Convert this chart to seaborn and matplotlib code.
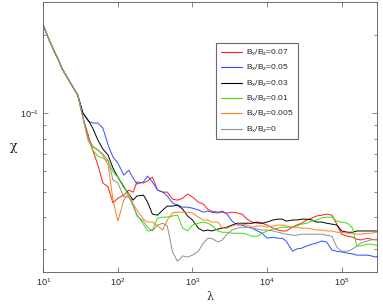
import pandas as pd
import matplotlib
matplotlib.use('Agg')
import matplotlib.pyplot as plt
import seaborn as sns

# lambda sampling points (shared by all curves)
lam = [10, 12, 14, 16, 18, 22, 25, 29,
       34, 40, 46, 54, 63, 74, 86,
       100, 120, 140, 160, 180, 220, 250, 290, 340, 400, 460, 540, 630, 740, 860,
       1000, 1200, 1400, 1600, 1800, 2200, 2500, 2900, 3400, 4000, 4600, 5400, 6300, 7400, 8600,
       1e4, 1.2e4, 1.4e4, 1.6e4, 1.8e4, 2.2e4, 2.5e4, 2.9e4, 3.4e4, 4e4, 4.6e4, 5.4e4, 6.3e4, 7.4e4, 8.6e4,
       1e5, 1.2e5, 1.4e5, 1.6e5, 1.8e5, 2.2e5, 2.5e5, 2.9e5, 3e5]

# common start of all curves
chi_start = [0.2186, 0.1914, 0.1736, 0.1603, 0.1480, 0.1343, 0.1262, 0.1176]

chi_007 = chi_start + [
    0.0968, 0.0826, 0.0723, 0.0633, 0.0540, 0.0521, 0.0452,
    0.0472, 0.0485, 0.0507, 0.0498, 0.0545, 0.0540, 0.0549, 0.0569, 0.0507, 0.0498, 0.0498, 0.0468, 0.0464, 0.0472, 0.0490,
    0.0477, 0.0456, 0.0448, 0.0428, 0.0421, 0.0417, 0.0417, 0.0414, 0.0417, 0.0414, 0.0410, 0.0392, 0.0382, 0.0378, 0.0378,
    0.0372, 0.0362, 0.0356, 0.0353, 0.0353, 0.0365, 0.0372, 0.0378, 0.0389, 0.0396, 0.0403, 0.0406, 0.0410, 0.0406, 0.0375,
    0.0343, 0.0337, 0.0334, 0.0328, 0.0326, 0.0331, 0.0328, 0.0326, 0.0326]

chi_005 = chi_start + [
    0.1003, 0.0934, 0.0918, 0.0918, 0.0878, 0.0755, 0.0679,
    0.0644, 0.0579, 0.0605, 0.0564, 0.0535, 0.0545, 0.0574, 0.0545, 0.0507, 0.0498, 0.0481, 0.0452, 0.0444, 0.0436, 0.0436,
    0.0432, 0.0425, 0.0417, 0.0421, 0.0417, 0.0414, 0.0421, 0.0410, 0.0385, 0.0372, 0.0372, 0.0365, 0.0362, 0.0353, 0.0346,
    0.0331, 0.0334, 0.0331, 0.0331, 0.0323, 0.0295, 0.0301, 0.0303, 0.0309, 0.0314, 0.0317, 0.0323, 0.0320, 0.0298, 0.0295,
    0.0293, 0.0290, 0.0288, 0.0285, 0.0285, 0.0285, 0.0283, 0.0280, 0.0283]

chi_003 = chi_start + [
    0.1003, 0.0942, 0.0878, 0.0789, 0.0729, 0.0691, 0.0616,
    0.0569, 0.0521, 0.0490, 0.0464, 0.0481, 0.0485, 0.0456, 0.0410, 0.0406, 0.0425, 0.0440, 0.0440, 0.0444, 0.0428, 0.0403,
    0.0389, 0.0362, 0.0353, 0.0356, 0.0353, 0.0359, 0.0362, 0.0365, 0.0372, 0.0378, 0.0378, 0.0378, 0.0378, 0.0382, 0.0378,
    0.0382, 0.0389, 0.0392, 0.0392, 0.0385, 0.0389, 0.0389, 0.0392, 0.0392, 0.0389, 0.0382, 0.0382, 0.0378, 0.0375, 0.0372,
    0.0353, 0.0349, 0.0349, 0.0353, 0.0353, 0.0353, 0.0353, 0.0353, 0.0353]

chi_001 = chi_start + [
    0.0959, 0.0789, 0.0723, 0.0685, 0.0673, 0.0655, 0.0595,
    0.0569, 0.0526, 0.0481, 0.0440, 0.0410, 0.0375, 0.0353, 0.0356, 0.0396, 0.0399, 0.0399, 0.0403, 0.0406, 0.0362, 0.0353,
    0.0372, 0.0378, 0.0382, 0.0378, 0.0372, 0.0353, 0.0349, 0.0349, 0.0346, 0.0346, 0.0346, 0.0343, 0.0337, 0.0337, 0.0346,
    0.0353, 0.0359, 0.0362, 0.0365, 0.0365, 0.0365, 0.0369, 0.0375, 0.0378, 0.0385, 0.0389, 0.0396, 0.0399, 0.0399, 0.0385,
    0.0382, 0.0378, 0.0362, 0.0309, 0.0309, 0.0314, 0.0314, 0.0311, 0.0311]

chi_0005 = chi_start + [
    0.0959, 0.0789, 0.0742, 0.0723, 0.0691, 0.0633, 0.0464,
    0.0385, 0.0464, 0.0494, 0.0448, 0.0425, 0.0392, 0.0382, 0.0382, 0.0369, 0.0356, 0.0389, 0.0414, 0.0417, 0.0417, 0.0417,
    0.0414, 0.0399, 0.0389, 0.0389, 0.0382, 0.0382, 0.0362, 0.0362, 0.0369, 0.0375, 0.0375, 0.0372, 0.0365, 0.0369, 0.0369,
    0.0365, 0.0369, 0.0372, 0.0372, 0.0369, 0.0365, 0.0365, 0.0362, 0.0362, 0.0359, 0.0356, 0.0356, 0.0353, 0.0353, 0.0349,
    0.0349, 0.0346, 0.0346, 0.0343, 0.0343, 0.0346, 0.0346, 0.0349, 0.0349]

chi_0 = chi_start + [
    0.0968, 0.0804, 0.0749, 0.0723, 0.0697, 0.0661, 0.0554,
    0.0540, 0.0477, 0.0477, 0.0444, 0.0403, 0.0385, 0.0365, 0.0353, 0.0372, 0.0378, 0.0369, 0.0293, 0.0270, 0.0283, 0.0280,
    0.0285, 0.0295, 0.0317, 0.0331, 0.0331, 0.0320, 0.0326, 0.0343, 0.0356, 0.0362, 0.0365, 0.0365, 0.0362, 0.0359, 0.0356,
    0.0356, 0.0353, 0.0349, 0.0346, 0.0343, 0.0340, 0.0340, 0.0343, 0.0343, 0.0343, 0.0343, 0.0343, 0.0340, 0.0337, 0.0306,
    0.0295, 0.0295, 0.0301, 0.0309, 0.0317, 0.0323, 0.0326, 0.0328, 0.0328]

labels = [r'B$_x$/B$_z$=0.07', r'B$_x$/B$_z$=0.05', r'B$_x$/B$_z$=0.03',
          r'B$_x$/B$_z$=0.01', r'B$_x$/B$_z$=0.005', r'B$_x$/B$_z$=0']
colors = ['#ff1a1a', '#2a4dff', '#000000', '#33e600', '#ff7f1f', '#8f8f8f']
series = [chi_007, chi_005, chi_003, chi_001, chi_0005, chi_0]

sns.set_style('ticks')
plt.rcParams['font.family'] = ['Liberation Sans', 'DejaVu Sans']
plt.rcParams['mathtext.fontset'] = 'custom'
plt.rcParams['mathtext.rm'] = 'Liberation Sans'
plt.rcParams['mathtext.it'] = 'Liberation Sans:italic'
plt.rcParams['mathtext.default'] = 'regular'

frames = []
for lab, vals in zip(labels, series):
    frames.append(pd.DataFrame({'lam': lam, 'chi': vals, 'serie': lab}))
df = pd.concat(frames, ignore_index=True)

fig = plt.figure(figsize=(3.83, 3.05), dpi=100)
ax = fig.add_axes([0.113, 0.108, 0.872, 0.885])
sns.lineplot(data=df, x='lam', y='chi', hue='serie', hue_order=labels,
             palette=dict(zip(labels, colors)), estimator=None, sort=False,
             linewidth=0.7, legend=False, ax=ax)

ax.set_xscale('log')
ax.set_yscale('log')
ax.set_xlim(10, 3e5)
ax.set_ylim(0.02453, 0.268)
ax.set_xticks([1e1, 1e2, 1e3, 1e4, 1e5])
ax.xaxis.set_minor_locator(matplotlib.ticker.NullLocator())

for s in ax.spines.values():
    s.set_visible(True)
    s.set_color('#555555')
    s.set_linewidth(0.6)
ax.tick_params(which='both', direction='in', top=True, right=True,
               color='#555555', width=0.5, labelsize=6.5, pad=3)
ax.tick_params(which='major', length=3.5)
ax.tick_params(which='minor', length=2)

ax.set_xlabel('λ', fontsize=8, labelpad=3, family='DejaVu Serif')
ax.set_ylabel('χ', fontsize=9, rotation=0, labelpad=7, family='DejaVu Serif')
ax.yaxis.set_label_coords(-0.09, 0.44)

handles = [matplotlib.lines.Line2D([], [], color=c, lw=0.8) for c in colors]
leg = ax.legend(handles, labels, loc='upper left', bbox_to_anchor=(0.517, 0.848),
                borderaxespad=0, fontsize=6, frameon=True, fancybox=False,
                handlelength=2.6, labelspacing=0.62, borderpad=0.55,
                handletextpad=0.4)
leg.get_frame().set_edgecolor('#444444')
leg.get_frame().set_linewidth(0.8)

fig.savefig('out.png', dpi=100)
